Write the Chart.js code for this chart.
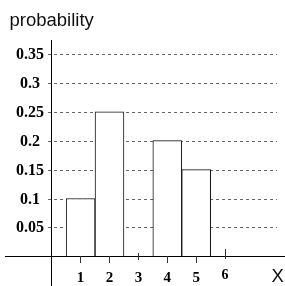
<!DOCTYPE html>
<html><head><meta charset="utf-8">
<script src="https://cdn.jsdelivr.net/npm/chart.js@4/dist/chart.umd.min.js"></script>
<style>html,body{margin:0;padding:0;background:#fff;overflow:hidden}canvas{display:block}</style>
</head><body>
<canvas id="c" width="285" height="286"></canvas>
<script>
// ---- data ----
const categories = [1, 2, 4, 5];
const probabilities = [0.1, 0.25, 0.2, 0.15];
const xTickValues = [1, 2, 3, 4, 5, 6];
const xTickLabels = ['1', '2', '3', '4', '5', '6'];
const yTickValues = [0.05, 0.1, 0.15, 0.2, 0.25, 0.3, 0.35];
const yTickLabels = ['0.05', '0.1', '0.15', '0.2', '0.25', '0.3', '0.35'];
const yAxisTitle = 'probability';
const xAxisTitle = 'X';

const SERIF = '"Liberation Serif", "Times New Roman", serif';
const SANS = '"Liberation Sans", Arial, sans-serif';

// tick mark extents relative to the axis (up negative, down positive)
const tickMarkExtent = { default: [0, 7], 3: [-3, 4], 6: [-7, 3] };

const crispX = px => Math.round(px - 0.2) + 0.5;
const crispY = px => Math.round(px) + 0.5;

const axesPlugin = {
  id: 'handAxes',
  beforeDatasetsDraw(chart) {
    const ctx = chart.ctx, y = chart.scales.y;
    ctx.save();
    ctx.strokeStyle = '#666';
    ctx.lineWidth = 1;
    ctx.setLineDash([3, 3]);
    yTickValues.forEach(v => {
      const py = crispY(y.getPixelForValue(v));
      ctx.beginPath();
      ctx.moveTo(48, py);
      ctx.lineTo(277, py);
      ctx.stroke();
    });
    ctx.restore();
  },
  afterDatasetsDraw(chart) {
    const ctx = chart.ctx, x = chart.scales.x, y = chart.scales.y;
    const ca = chart.chartArea;
    const ax = crispX(x.getPixelForValue(0));
    const ay = crispY(y.getPixelForValue(0));
    ctx.save();
    ctx.setLineDash([]);
    ctx.strokeStyle = '#000';
    ctx.lineWidth = 1;
    // x axis
    ctx.beginPath(); ctx.moveTo(ca.left, ay); ctx.lineTo(ca.right, ay); ctx.stroke();
    // y axis
    ctx.beginPath(); ctx.moveTo(ax, ca.top); ctx.lineTo(ax, ca.bottom); ctx.stroke();
    // x tick marks
    ctx.strokeStyle = '#333';
    xTickValues.forEach(v => {
      const px = crispX(x.getPixelForValue(v));
      const ext = tickMarkExtent[v] || tickMarkExtent.default;
      ctx.beginPath(); ctx.moveTo(px, ay - 0.5 + ext[0]); ctx.lineTo(px, ay - 0.5 + ext[1]); ctx.stroke();
    });
    // x tick labels
    ctx.fillStyle = '#000';
    ctx.textAlign = 'center';
    ctx.textBaseline = 'alphabetic';
    xTickValues.forEach((v, i) => {
      const px = x.getPixelForValue(v);
      const raised = v === 6;
      ctx.font = 'bold ' + (raised ? 14 : 15) + 'px ' + SERIF;
      ctx.fillText(xTickLabels[i], px, raised ? 278.5 : 282);
    });
    // y tick labels
    ctx.font = 'bold 16px ' + SERIF;
    yTickValues.forEach((v, i) => {
      const py = Math.round(y.getPixelForValue(v));
      ctx.fillText(yTickLabels[i], 30, py + 5);
    });
    // titles
    ctx.fillStyle = '#111';
    ctx.font = '18.5px ' + SANS;
    ctx.textAlign = 'left';
    ctx.fillText(yAxisTitle, 9.5, 26);
    ctx.fillText(xAxisTitle, 271.5, 282);
    ctx.restore();
  }
};

new Chart(document.getElementById('c'), {
  type: 'bar',
  data: {
    datasets: [{
      data: categories.map((c, i) => ({ x: c, y: probabilities[i] })),
      backgroundColor: '#fff',
      borderColor: '#111',
      borderWidth: 1,
      barPercentage: 1,
      categoryPercentage: 1
    }]
  },
  options: {
    responsive: false,
    devicePixelRatio: 1,
    animation: false,
    layout: { padding: { left: 5, right: 0, top: 40, bottom: 0 } },
    plugins: { legend: { display: false }, tooltip: { enabled: false } },
    scales: {
      x: {
        type: 'linear', display: false, offset: false,
        grid: { offset: false },
        min: -1.6159, max: 8.0727,
        afterBuildTicks: s => { s.ticks = xTickValues.map(v => ({ value: v })); }
      },
      y: {
        type: 'linear', display: false,
        min: -0.05138, max: 0.37422,
        afterBuildTicks: s => { s.ticks = yTickValues.map(v => ({ value: v })); }
      }
    }
  },
  plugins: [axesPlugin]
});
</script>
</body></html>
